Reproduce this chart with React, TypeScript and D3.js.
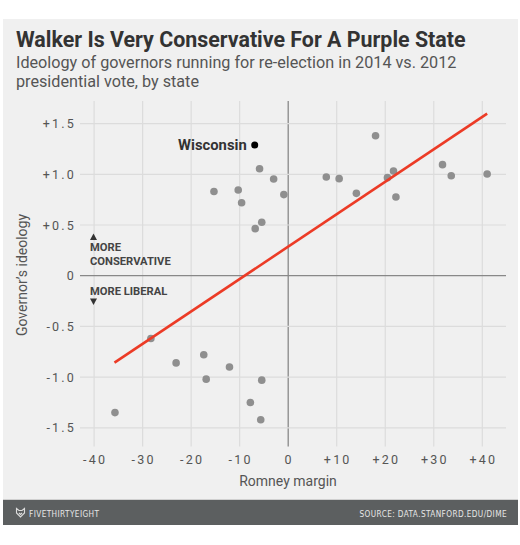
import React from "react";
import * as d3 from "d3";

const marginVals = [-35.7, -28.3, -23.1, -17.4, -16.9, -12.1, -7.8, -5.45, -5.66, -15.3, -10.3, -9.6, -5.9, -3.0, -0.9, -5.45, -6.8, 7.85, 10.5, 14.05, 18.0, 20.45, 21.7, 22.2, 31.8, 33.6, 41.0];
const ideologyVals = [-1.35, -0.62, -0.86, -0.78, -1.02, -0.9, -1.25, -1.03, -1.42, 0.83, 0.845, 0.72, 1.055, 0.954, 0.8, 0.527, 0.464, 0.973, 0.957, 0.812, 1.38, 0.967, 1.032, 0.776, 1.095, 0.986, 1.003];
const wisconsinLabel = "Wisconsin";
const wisconsinMargin = -6.9;
const wisconsinIdeology = 1.29;
const trendX = [-35.8, 41.0];
const trendY = [-0.858, 1.598];
const xTicks = [-40, -30, -20, -10, 0, 10, 20, 30, 40];
const xTickLabels = ["-40", "-30", "-20", "-10", "0", "+10", "+20", "+30", "+40"];
const yTicks = [1.5, 1.0, 0.5, 0, -0.5, -1.0, -1.5];
const yTickLabels = ["+1.5", "+1.0", "+0.5", "0", "-0.5", "-1.0", "-1.5"];

const FONT = "Roboto, 'Liberation Sans', Arial, sans-serif";
const FOOT_FONT = "'DejaVu Sans Condensed', 'Roboto Condensed', Roboto, sans-serif";

export default function App() {
  const x = d3.scaleLinear().domain([-40, 40]).range([94.1, 482.3]);
  const y = d3.scaleLinear().domain([-1.5, 1.5]).range([427.8, 123.6]);
  const line = d3.line<[number, number]>().x((d) => x(d[0])).y((d) => y(d[1]));
  const trend: [number, number][] = trendX.map((v, i) => [v, trendY[i]]);
  const gridTop = 101;
  const gridBottom = 446.5;
  const gridLeft = 80;
  const gridRight = 506;
  const pts = marginVals.map((m, i) => ({ m, v: ideologyVals[i] }));

  return (
    <svg width={520} height={545} style={{ position: "absolute", left: 0, top: 0 }} fontFamily={FONT}>
      <rect x={0} y={0} width={520} height={545} fill="#ffffff" />
      <rect x={3} y={19} width={515} height={481} fill="#f0f0f0" />
      <line x1={3} x2={518} y1={499.5} y2={499.5} stroke="#d0d0d0" strokeWidth={1} />
      <rect x={3} y={500} width={515} height={25} fill="#5c5f60" />

      <text x={16} y={47} fontSize={21.4} fontWeight={700} fill="#333">Walker Is Very Conservative For A Purple State</text>
      <text x={16} y={68} fontSize={16.2} fill="#555">Ideology of governors running for re-election in 2014 vs. 2012</text>
      <text x={16} y={87} fontSize={16.2} fill="#555">presidential vote, by state</text>

      {xTicks.map((t) => (
        <line key={"vx" + t} x1={x(t)} x2={x(t)} y1={gridTop} y2={gridBottom} stroke={t === 0 ? "#888" : "#dcdcdc"} strokeWidth={t === 0 ? 1.3 : 1.2} />
      ))}
      {yTicks.map((t) => (
        <line key={"hy" + t} x1={gridLeft} x2={gridRight} y1={y(t)} y2={y(t)} stroke={t === 0 ? "#888" : "#dcdcdc"} strokeWidth={t === 0 ? 1.3 : 1.2} />
      ))}

      {yTicks.map((t, i) => (
        <text key={"yl" + t} x={76} y={y(t) + 4.5} fontSize={12.5} letterSpacing={2.2} textAnchor="end" fill="#555">{yTickLabels[i]}</text>
      ))}
      {xTicks.map((t, i) => (
        <text key={"xl" + t} x={x(t) + 1} y={463.5} fontSize={12.5} letterSpacing={2.2} textAnchor="middle" fill="#555">{xTickLabels[i]}</text>
      ))}

      <text x={288} y={486} fontSize={14} textAnchor="middle" fill="#555">Romney margin</text>
      <text transform="translate(27,275) rotate(-90)" fontSize={14} textAnchor="middle" fill="#555">Governor’s ideology</text>

      <path d="M90,240 L97,240 L93.5,233.5 Z" fill="#333" />
      <text x={90} y={251.3} fontSize={11.2} fontWeight={700} fill="#444">MORE</text>
      <text x={90} y={264.6} fontSize={11.2} fontWeight={700} fill="#444">CONSERVATIVE</text>
      <text x={90} y={295} fontSize={11.2} fontWeight={700} fill="#444">MORE LIBERAL</text>
      <path d="M90,298.5 L97,298.5 L93.5,305 Z" fill="#333" />

      {pts.map((p, i) => (
        <circle key={"p" + i} cx={x(p.m)} cy={y(p.v)} r={3.8} fill="#8f8f8f" />
      ))}

      <path d={line(trend) || ""} fill="none" stroke="#ec3b26" strokeWidth={2.6} />

      <circle cx={x(wisconsinMargin)} cy={y(wisconsinIdeology)} r={3.5} fill="#000" />
      <text x={x(wisconsinMargin) - 8} y={y(wisconsinIdeology) + 4.8} fontSize={14.8} fontWeight={700} textAnchor="end" fill="#333">{wisconsinLabel}</text>

      <g transform="translate(16,508)" fill="none" stroke="#ddd" strokeWidth={1.1}>
        <path d="M0.5,0.5 L3,2.5 L6,2.5 L8.5,0.5 L8.5,5 L4.5,9 L0.5,5 Z" />
        <path d="M3,5 L4.5,6.5 L6,5" />
      </g>
      <text x={29} y={516.5} fontSize={8.2} fill="#e6e6e6" letterSpacing={0.4} fontFamily={FOOT_FONT}>FIVETHIRTYEIGHT</text>
      <text x={507} y={516.5} fontSize={8.2} fill="#e6e6e6" letterSpacing={0.4} textAnchor="end" fontFamily={FOOT_FONT}>SOURCE: DATA.STANFORD.EDU/DIME</text>
    </svg>
  );
}
